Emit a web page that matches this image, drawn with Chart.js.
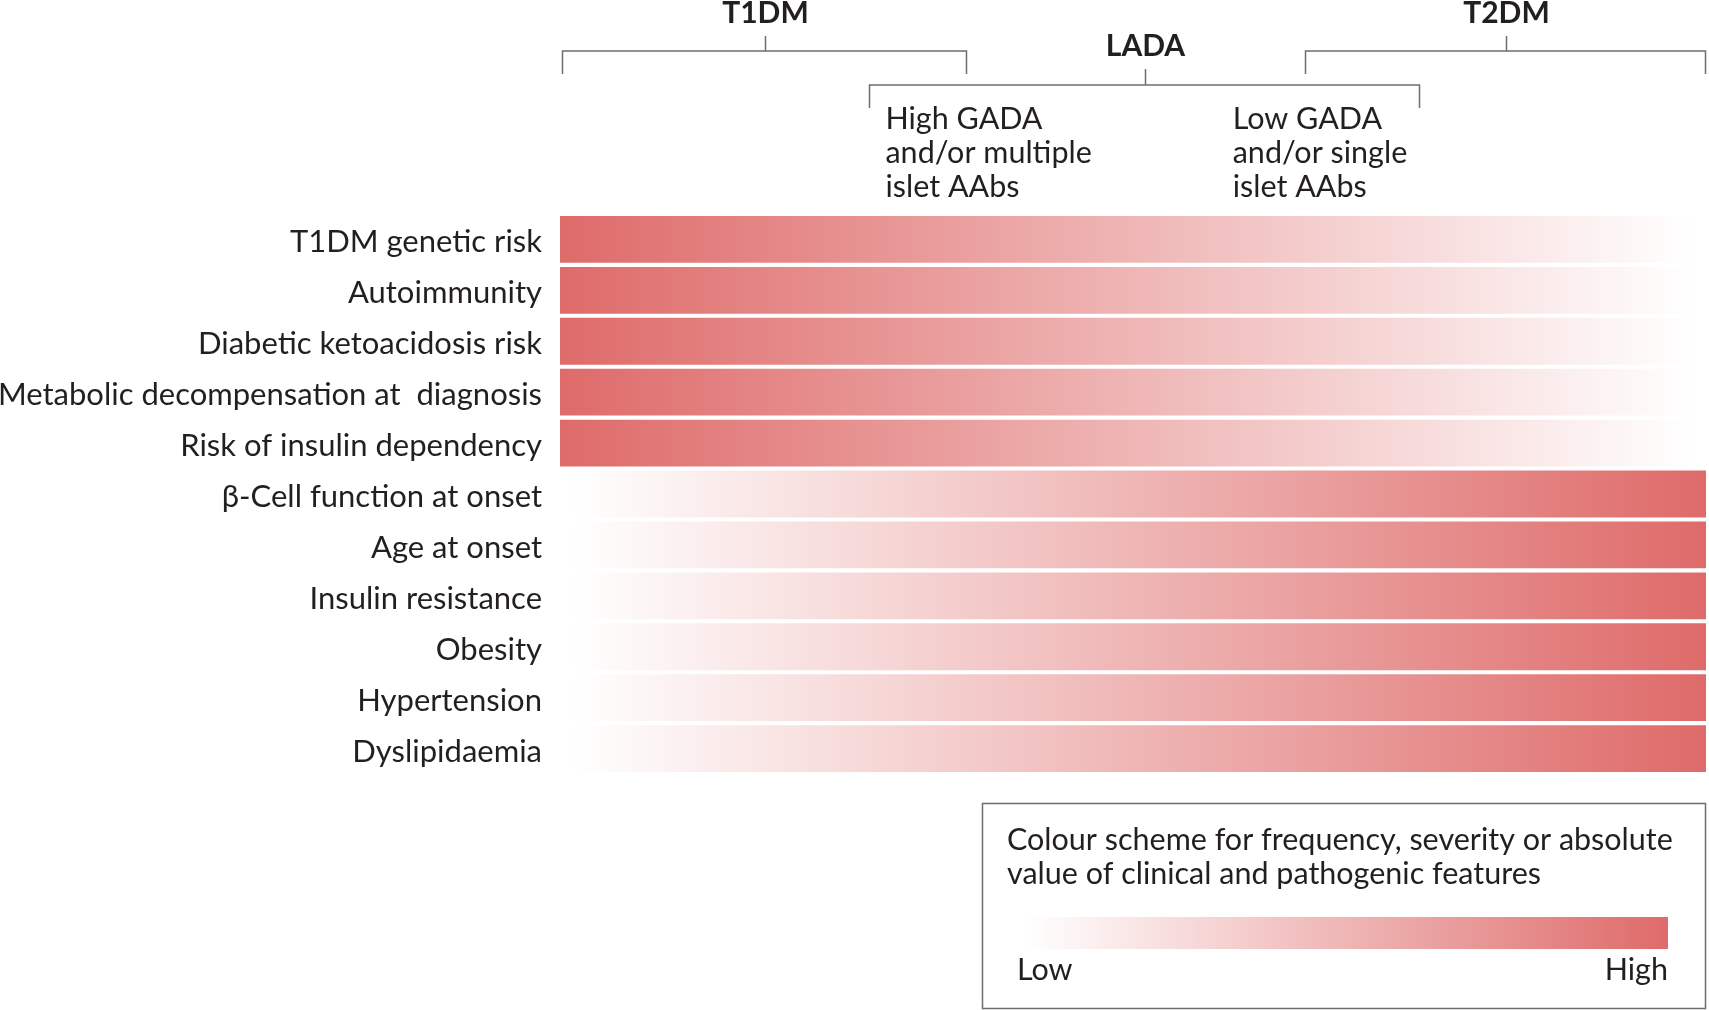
<!DOCTYPE html>
<html>
<head>
<meta charset="utf-8">
<script src="https://cdn.jsdelivr.net/npm/chart.js@4.4.1/dist/chart.umd.min.js"></script>
<style>
  html, body { margin: 0; padding: 0; background: #fff; }
  #wrap { width: 1709px; height: 1010px; position: relative; }
</style>
</head>
<body>
<div id="wrap"><canvas id="chart" width="1709" height="1010"></canvas></div>
<script>
// features, top to bottom
const features = [
  'T1DM genetic risk',
  'Autoimmunity',
  'Diabetic ketoacidosis risk',
  'Metabolic decompensation at  diagnosis',
  'Risk of insulin dependency',
  'β-Cell function at onset',
  'Age at onset',
  'Insulin resistance',
  'Obesity',
  'Hypertension',
  'Dyslipidaemia'
];
// which end of the spectrum the feature is high at
const highAt = ['T1DM', 'T1DM', 'T1DM', 'T1DM', 'T1DM', 'T2DM', 'T2DM', 'T2DM', 'T2DM', 'T2DM', 'T2DM'];
// every bar spans the whole T1DM -> T2DM spectrum (0-100)
const spans = [100, 100, 100, 100, 100, 100, 100, 100, 100, 100, 100];

// brackets on top, in spectrum units
const groupNames = ['T1DM', 'LADA', 'T2DM'];
const groupStart = [0.2, 27, 65];
const groupEnd = [35.5, 75, 100];
const groupTier = [0, 1, 0];

const subLabels = [
  ['High GADA', 'and/or multiple', 'islet AAbs'],
  ['Low GADA', 'and/or single', 'islet AAbs']
];
const subStart = [28.4, 58.7];

const legendTitle = ['Colour scheme for frequency, severity or absolute', 'value of clinical and pathogenic features'];
const legendEnds = ['Low', 'High'];

const RED = '#de6b6a';
const TEXT = '#231f20';
const LINE = '#6d6e71';
const FONT = 'Lato, sans-serif';

function barFill(ctx){
  const chart = ctx.chart;
  if (!chart.chartArea) return RED;
  const x = chart.scales.x;
  const g = chart.ctx.createLinearGradient(x.getPixelForValue(0), 0, x.getPixelForValue(100), 0);
  if (highAt[ctx.dataIndex] === 'T1DM'){
    g.addColorStop(0, RED); g.addColorStop(0.99, '#ffffff');
  } else {
    g.addColorStop(0.01, '#ffffff'); g.addColorStop(1, RED);
  }
  return g;
}

const annotations = {
  id: 'annotations',
  afterDraw(chart){
    const c = chart.ctx, x = chart.scales.x;
    c.save();
    c.strokeStyle = LINE;
    c.lineWidth = 1.5;
    c.fillStyle = TEXT;
    c.textAlign = 'center';
    c.textBaseline = 'middle';

    // group brackets
    const tiers = [
      { label: 13, bar: 51, tick: 36, foot: 74 },
      { label: 46, bar: 85, tick: 69, foot: 108 }
    ];
    groupNames.forEach((name, i) => {
      const t = tiers[groupTier[i]];
      const a = Math.round(x.getPixelForValue(groupStart[i])) + 0.5;
      const b = Math.min(Math.round(x.getPixelForValue(groupEnd[i])), 1707) - 0.5;
      const m = Math.round((a + b) / 2) + 0.5;
      c.beginPath();
      c.moveTo(a, t.foot); c.lineTo(a, t.bar); c.lineTo(b, t.bar); c.lineTo(b, t.foot);
      c.moveTo(m, t.tick); c.lineTo(m, t.bar);
      c.stroke();
      c.font = 'bold 30px ' + FONT;
      c.fillText(name, m, t.label);
    });

    // LADA sub-groups
    c.textAlign = 'left';
    c.font = '30.5px ' + FONT;
    subLabels.forEach((lines, i) => {
      const px = x.getPixelForValue(subStart[i]);
      lines.forEach((s, j) => c.fillText(s, px, 119 + j * 34));
    });

    // colour scale box
    c.lineWidth = 1.5;
    c.strokeRect(982.5, 803.5, 723, 205);
    legendTitle.forEach((s, j) => c.fillText(s, 1007, 840 + j * 34));
    const g = c.createLinearGradient(1019, 0, 1668, 0);
    g.addColorStop(0.01, '#ffffff'); g.addColorStop(1, RED);
    c.fillStyle = g;
    c.fillRect(1019, 917, 649, 32);
    c.fillStyle = TEXT;
    c.fillText(legendEnds[0], 1017, 970);
    c.textAlign = 'right';
    c.fillText(legendEnds[1], 1668, 970);
    c.restore();
  }
};

new Chart(document.getElementById('chart'), {
  type: 'bar',
  data: {
    labels: features,
    datasets: [{
      data: spans,
      backgroundColor: barFill,
      borderWidth: 0,
      barPercentage: 0.92,
      categoryPercentage: 1
    }]
  },
  options: {
    indexAxis: 'y',
    responsive: false,
    animation: false,
    layout: { padding: { top: 214, bottom: 236, left: 0, right: 3 } },
    plugins: { legend: { display: false }, tooltip: { enabled: false } },
    scales: {
      x: { min: 0, max: 100, display: false },
      y: {
        grid: { display: false, drawTicks: false },
        border: { display: false },
        ticks: { color: TEXT, padding: 18, labelOffset: 3, font: { family: FONT, size: 31 } },
        afterFit(scale){ scale.width = 560; }
      }
    }
  },
  plugins: [annotations]
});
</script>
</body>
</html>
